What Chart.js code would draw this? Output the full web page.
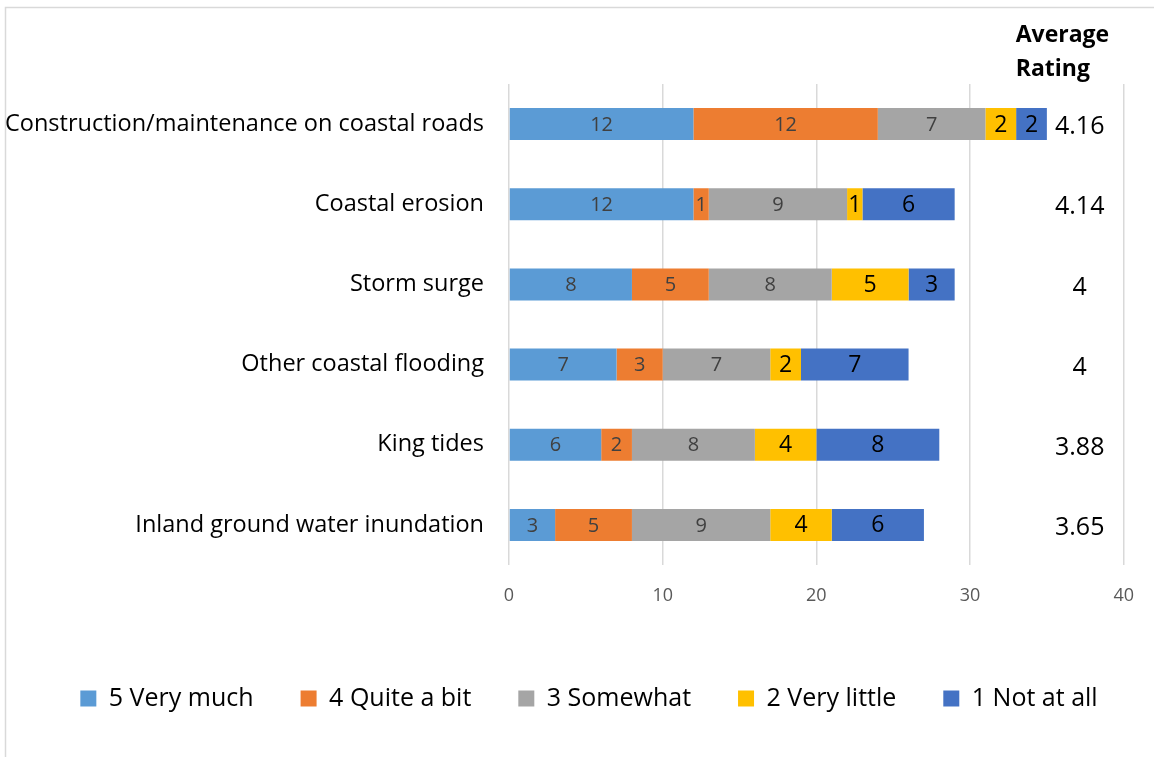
<!DOCTYPE html>
<html>
<head>
<meta charset="utf-8">
<script src="https://cdn.jsdelivr.net/npm/chart.js@4/dist/chart.umd.min.js"></script>
<style>
  html, body { margin: 0; padding: 0; background: #fff; }
  #wrap { width: 1154px; height: 757px; position: relative; }
</style>
</head>
<body>
<div id="wrap"><canvas id="ratingChart" width="1154" height="757"></canvas></div>
<script>
// survey categories, top to bottom
const categories = [
  'Construction/maintenance on coastal roads',
  'Coastal erosion',
  'Storm surge',
  'Other coastal flooding',
  'King tides',
  'Inland ground water inundation'
];

// response counts per rating
const veryMuch   = [12, 12, 8, 7, 6, 3];
const quiteABit  = [12, 1, 5, 3, 2, 5];
const somewhat   = [7, 9, 8, 7, 8, 9];
const veryLittle = [2, 1, 5, 2, 4, 4];
const notAtAll   = [2, 6, 3, 7, 8, 6];

const averageRating = ['4.16', '4.14', '4', '4', '3.88', '3.65'];

const seriesNames = ['5 Very much', '4 Quite a bit', '3 Somewhat', '2 Very little', '1 Not at all'];
const seriesColors = ['#5B9BD5', '#ED7D31', '#A5A5A5', '#FFC000', '#4472C4'];
const labelColors = ['#404040', '#404040', '#404040', '#000000', '#000000'];
const xTicks = [0, 10, 20, 30, 40];

const FONT = '"Open Sans", Lato, sans-serif';

const seriesData = [veryMuch, quiteABit, somewhat, veryLittle, notAtAll];

// frame lines on the left and top edges
const framePlugin = {
  id: 'frame',
  beforeDraw(chart) {
    const c = chart.ctx;
    c.save();
    c.fillStyle = '#fff';
    c.fillRect(0, 0, chart.width, chart.height);
    c.strokeStyle = '#D9D9D9';
    c.lineWidth = 1.5;
    c.beginPath();
    c.moveTo(5.5, chart.height);
    c.lineTo(5.5, 7.5);
    c.lineTo(chart.width, 7.5);
    c.stroke();
    c.restore();
  }
};

// nudge the legend row a little to the right
const legendShift = {
  id: 'legendShift',
  afterLayout(chart) {
    chart.legend.left += 25;
    chart.legend.right += 25;
  }
};

// value labels inside each segment
const segmentLabels = {
  id: 'segmentLabels',
  afterDatasetsDraw(chart) {
    const c = chart.ctx;
    c.save();
    c.textAlign = 'center';
    c.textBaseline = 'middle';
    chart.data.datasets.forEach((ds, i) => {
      const meta = chart.getDatasetMeta(i);
      const big = i >= 3;
      c.font = (big ? '23px ' : '20px ') + FONT;
      c.fillStyle = labelColors[i];
      meta.data.forEach((bar, j) => {
        const v = ds.data[j];
        if (!v) return;
        c.fillText(String(v), (bar.x + bar.base) / 2, bar.y + 1);
      });
    });
    c.restore();
  }
};

// average rating column at the right
const averageColumn = {
  id: 'averageColumn',
  afterDraw(chart) {
    const c = chart.ctx;
    const yScale = chart.scales.y;
    const left = chart.chartArea.right - 108;
    c.save();
    c.textBaseline = 'middle';
    c.fillStyle = '#000';
    c.textAlign = 'left';
    c.font = 'bold 23px ' + FONT;
    c.fillText('Average', left, chart.chartArea.top - 49);
    c.fillText('Rating', left, chart.chartArea.top - 15);
    c.textAlign = 'center';
    c.font = '25px ' + FONT;
    averageRating.forEach((r, j) => {
      c.fillText(r, left + 64, yScale.getPixelForValue(j) + 3);
    });
    c.restore();
  }
};

new Chart(document.getElementById('ratingChart'), {
  type: 'bar',
  data: {
    labels: categories,
    datasets: seriesNames.map((name, i) => ({
      label: name,
      data: seriesData[i],
      backgroundColor: seriesColors[i],
      borderWidth: 0,
      barPercentage: 0.4,
      categoryPercentage: 1
    }))
  },
  options: {
    indexAxis: 'y',
    responsive: false,
    animation: false,
    layout: { padding: { top: 84, right: 26, bottom: 36, left: 0 } },
    scales: {
      x: {
        stacked: true,
        min: 0,
        max: 40,
        afterBuildTicks: axis => { axis.ticks = xTicks.map(v => ({ value: v })); },
        afterFit: axis => { axis.height = 74; },
        grid: { color: '#D9D9D9', lineWidth: 1.5, drawTicks: false },
        border: { display: false },
        ticks: { color: '#595959', font: { family: FONT, size: 18 }, padding: 20 }
      },
      y: {
        stacked: true,
        afterFit: axis => { axis.width = 509; },
        grid: { display: false },
        border: { display: false },
        ticks: { color: '#000', font: { family: FONT, size: 23.5 }, padding: 17 }
      }
    },
    plugins: {
      legend: {
        position: 'bottom',
        labels: {
          color: '#000',
          font: { family: FONT, size: 25 },
          boxWidth: 16,
          boxHeight: 16,
          padding: 47
        }
      },
      tooltip: { enabled: false }
    }
  },
  plugins: [framePlugin, legendShift, segmentLabels, averageColumn]
});
</script>
</body>
</html>
